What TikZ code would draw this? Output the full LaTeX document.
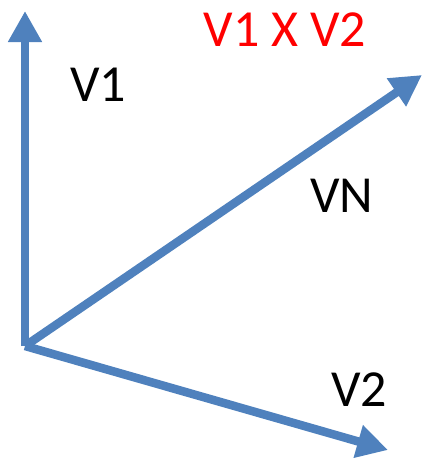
\documentclass[tikz,border=0pt]{standalone}
\usepackage{fontspec}
\setmainfont{Carlito}
\usetikzlibrary{arrows.meta}
\definecolor{vblue}{RGB}{79,129,189}
\begin{document}
\begin{tikzpicture}[x=1pt,y=-1pt,
  vec/.style={draw=vblue,line width=8.5pt,-{Triangle[length=31pt,width=32pt]}},
  lbl/.style={inner sep=0pt,anchor=base,font=\fontsize{52}{52}\selectfont}]
\useasboundingbox (0,0) rectangle (423,458);
\coordinate (o) at (25,346);
\coordinate (v1) at (25,11);
\coordinate (vn) at (422,75);
\coordinate (v2) at (388,450);
\draw[vec] (o) -- (v1);
\draw[vec] (o) -- (vn);
\draw[vec] (o) -- (v2);
\node[lbl] (t1) at (98,101) {V1};
\node[lbl] (tn) at (342,212) {VN};
\node[lbl] (t2) at (359,406) {V2};
\node[lbl,text=red] (tx) at (285,46) {V1 X V2};
\end{tikzpicture}
\end{document}
